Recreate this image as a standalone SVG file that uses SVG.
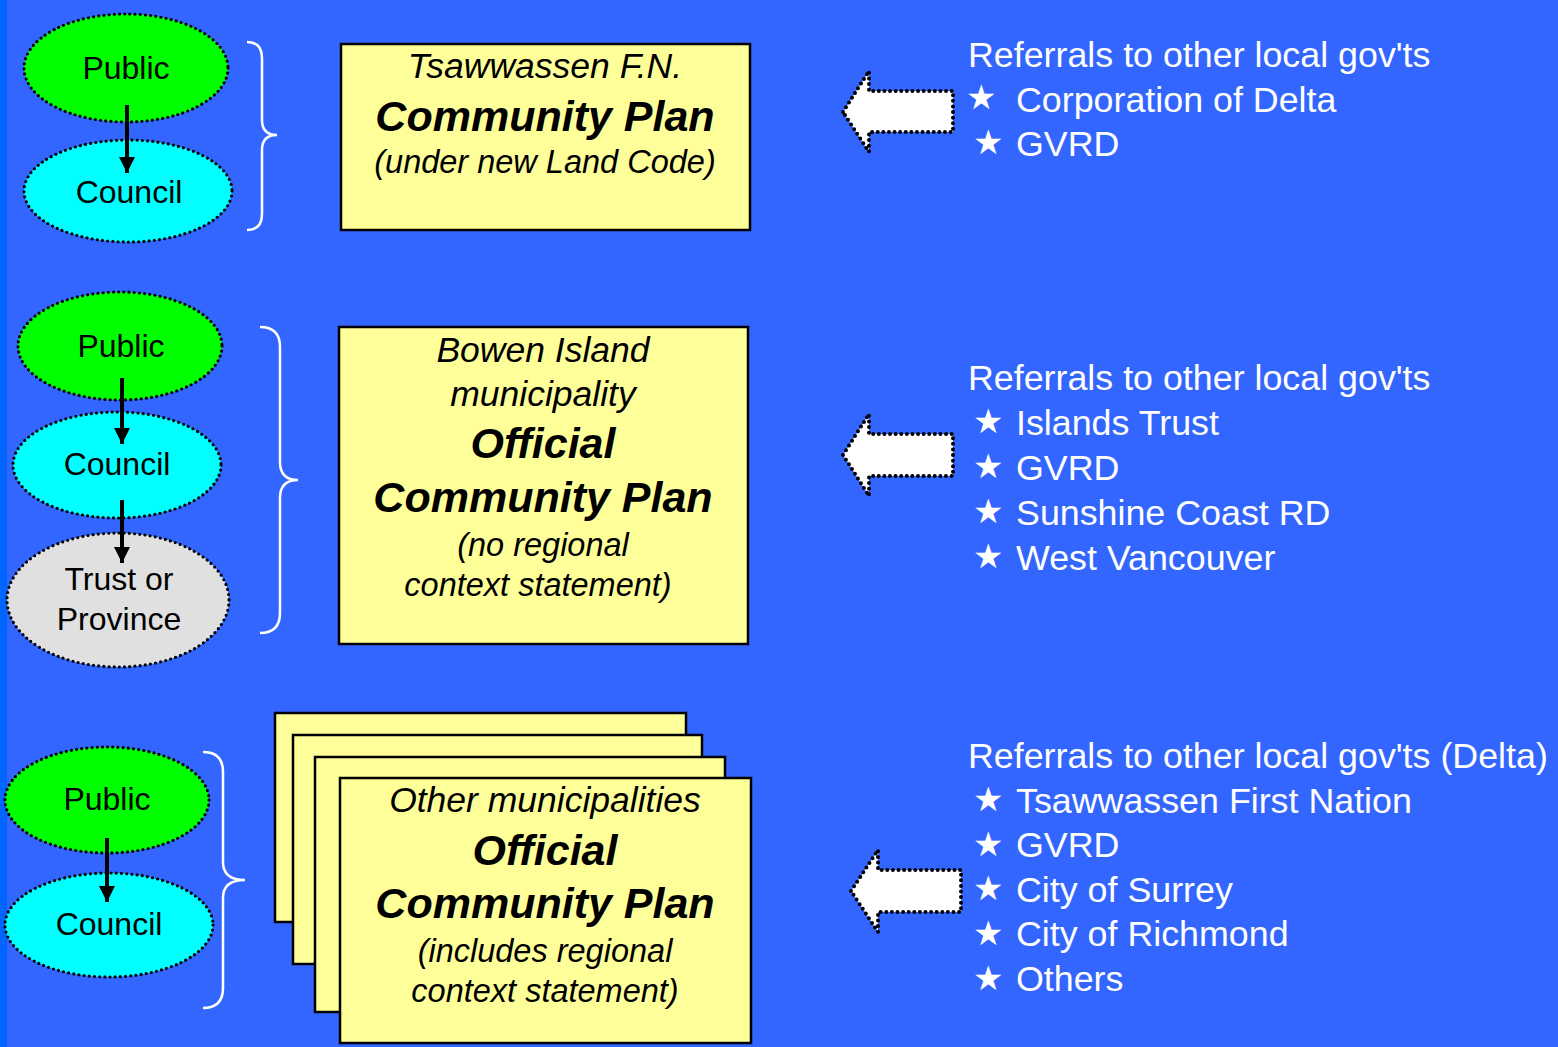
<svg xmlns="http://www.w3.org/2000/svg" width="1558" height="1047" viewBox="0 0 1558 1047">
<defs>
<style>
.bg{fill:#3366FF}
.ell{stroke:#000;stroke-width:3.2;stroke-dasharray:0 5.2;stroke-linecap:round}
.pub{fill:#00FF00}
.cou{fill:#00FFFF}
.gry{fill:#E0E0E0}
.lbl{font-family:"Liberation Sans",Arial,sans-serif;font-size:32px;fill:#000;text-anchor:middle}
.box{fill:#FFFF99;stroke:#000;stroke-width:2.5}
.it{font-family:"Liberation Sans",Arial,sans-serif;font-style:italic;fill:#000;text-anchor:middle}
.t1{font-size:35.5px}
.t2{font-size:43px;font-weight:bold}
.t3{font-size:32.5px}
.brace{fill:none;stroke:#fff;stroke-width:2.5}
.blk{fill:#fff;stroke:#000;stroke-width:4;stroke-dasharray:0 5.6;stroke-linecap:round;stroke-linejoin:round}
.ref{font-family:"Liberation Sans",Arial,sans-serif;font-size:35.8px;fill:#fff}
.star{font-family:"DejaVu Sans",sans-serif;font-size:34px;fill:#fff}
.conn line{stroke:#000;stroke-width:4}
</style>
<marker id="ah" markerWidth="16" markerHeight="16" viewBox="0 0 16 16" refX="16" refY="8" orient="auto" markerUnits="userSpaceOnUse">
<path d="M0,0 L16,8 L0,16 z" fill="#000"/>
</marker>
</defs>
<rect class="bg" x="0" y="0" width="1558" height="1047"/>
<rect x="0" y="0" width="7" height="1047" fill="#0066FF"/>

<!-- Row 1 -->
<g id="public1"><ellipse class="ell pub" cx="126" cy="68" rx="102" ry="54"/><text class="lbl" x="126" y="79">Public</text></g>
<g id="council1"><ellipse class="ell cou" cx="128" cy="191" rx="104" ry="51"/><text class="lbl" x="129" y="203">Council</text></g>
<g id="brace1"><path class="brace" d="M247,42 Q262,42 262,58 L262,120 Q262,135 277,135 Q262,135 262,150 L262,214 Q262,230 247,230"/></g>
<g id="plan1"><rect class="box" x="341" y="44" width="409" height="186"/>
<text class="it t1" x="545" y="78">Tsawwassen F.N.</text>
<text class="it t2" x="545" y="131">Community Plan</text>
<text class="it t3" x="545" y="173">(under new Land Code)</text></g>
<g id="arrow1"><path class="blk" d="M843,112 L869,71 L869,91 L953,91 L953,132 L869,132 L869,152 Z"/></g>
<g id="refs1">
<text class="ref" x="968" y="67">Referrals to other local gov'ts</text>
<text class="star" x="966" y="109">★</text><text class="ref" x="1016" y="112">Corporation of Delta</text>
<text class="star" x="973" y="154">★</text><text class="ref" x="1016" y="156">GVRD</text>
</g>

<!-- Row 2 -->
<g id="public2"><ellipse class="ell pub" cx="120" cy="346" rx="102" ry="54"/><text class="lbl" x="121" y="357">Public</text></g>
<g id="council2"><ellipse class="ell cou" cx="117" cy="465" rx="104" ry="53"/><text class="lbl" x="117" y="475">Council</text></g>
<g id="province2"><ellipse class="ell gry" cx="118" cy="600" rx="111" ry="67"/><text class="lbl" x="119" y="590">Trust or</text><text class="lbl" x="119" y="630">Province</text></g>
<g id="brace2"><path class="brace" d="M260,327 Q280,327 280,347 L280,462 Q280,480 298,480 Q280,480 280,498 L280,613 Q280,633 260,633"/></g>
<g id="plan2"><rect class="box" x="339" y="327" width="409" height="317"/>
<text class="it t1" x="543" y="362">Bowen Island</text>
<text class="it t1" x="543" y="406">municipality</text>
<text class="it t2" x="543" y="458">Official</text>
<text class="it t2" x="543" y="512">Community Plan</text>
<text class="it t3" x="543" y="556">(no regional</text>
<text class="it t3" x="538" y="596">context statement)</text></g>
<g id="arrow2"><path class="blk" d="M843,455 L869,414 L869,434 L953,434 L953,476 L869,476 L869,496 Z"/></g>
<g id="refs2">
<text class="ref" x="968" y="390">Referrals to other local gov'ts</text>
<text class="star" x="973" y="433">★</text><text class="ref" x="1016" y="435">Islands Trust</text>
<text class="star" x="973" y="478">★</text><text class="ref" x="1016" y="480">GVRD</text>
<text class="star" x="973" y="523">★</text><text class="ref" x="1016" y="525">Sunshine Coast RD</text>
<text class="star" x="973" y="568">★</text><text class="ref" x="1016" y="570">West Vancouver</text>
</g>

<!-- Row 3 -->
<g id="public3"><ellipse class="ell pub" cx="107" cy="800" rx="102" ry="53"/><text class="lbl" x="107" y="810">Public</text></g>
<g id="council3"><ellipse class="ell cou" cx="109" cy="925" rx="104" ry="52"/><text class="lbl" x="109" y="935">Council</text></g>
<g id="brace3"><path class="brace" d="M203,752 Q223,752 223,772 L223,862 Q223,880 245,880 Q223,880 223,898 L223,988 Q223,1008 203,1008"/></g>
<g id="plan3">
<rect class="box" x="275" y="713" width="411" height="209"/>
<rect class="box" x="293" y="735" width="409" height="229"/>
<rect class="box" x="315" y="757" width="410" height="255"/>
<rect class="box" x="340" y="778" width="411" height="265"/>
<text class="it t1" x="545" y="812">Other municipalities</text>
<text class="it t2" x="545" y="865">Official</text>
<text class="it t2" x="545" y="918">Community Plan</text>
<text class="it t3" x="545" y="962">(includes regional</text>
<text class="it t3" x="545" y="1002">context statement)</text></g>
<g id="arrow3"><path class="blk" d="M851,891 L878,850 L878,870 L961,870 L961,912 L878,912 L878,932 Z"/></g>
<g id="refs3">
<text class="ref" x="968" y="768">Referrals to other local gov'ts (Delta)</text>
<text class="star" x="973" y="811">★</text><text class="ref" x="1016" y="813">Tsawwassen First Nation</text>
<text class="star" x="973" y="856">★</text><text class="ref" x="1016" y="857">GVRD</text>
<text class="star" x="973" y="900">★</text><text class="ref" x="1016" y="902">City of Surrey</text>
<text class="star" x="973" y="945">★</text><text class="ref" x="1016" y="946">City of Richmond</text>
<text class="star" x="973" y="990">★</text><text class="ref" x="1016" y="991">Others</text>
</g>

<!-- Connectors -->
<g id="connectors" class="conn">
<line x1="127" y1="105" x2="127" y2="173" marker-end="url(#ah)"/>
<line x1="122" y1="378" x2="122" y2="444" marker-end="url(#ah)"/>
<line x1="122" y1="500" x2="122" y2="563" marker-end="url(#ah)"/>
<line x1="107" y1="838" x2="107" y2="902" marker-end="url(#ah)"/>
</g>
</svg>
